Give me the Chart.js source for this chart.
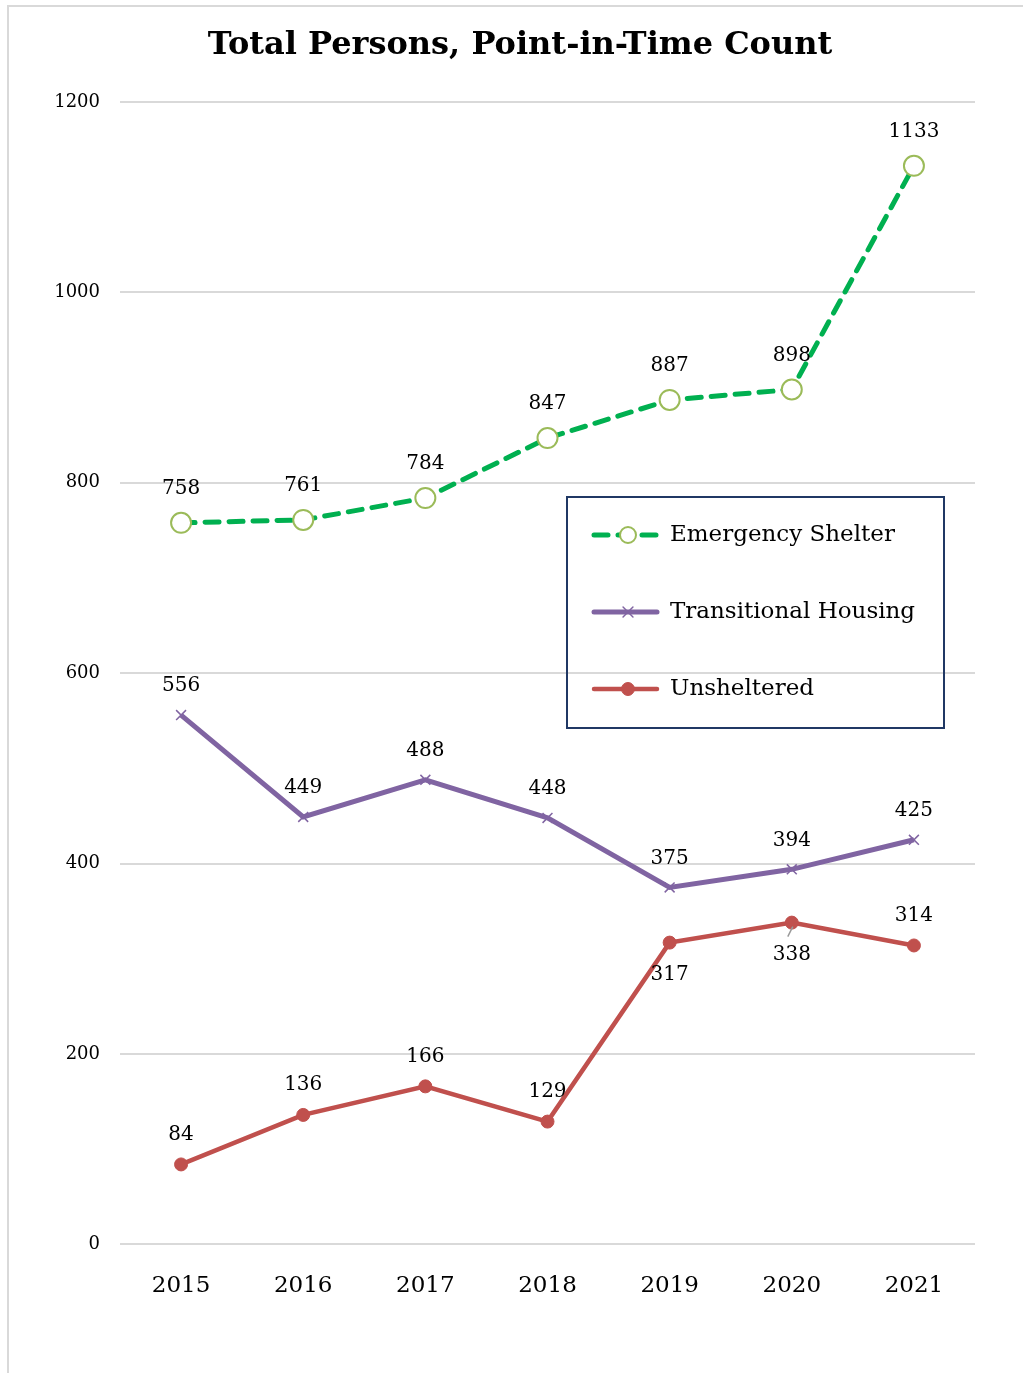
<!DOCTYPE html>
<html>
<head>
<meta charset="utf-8">
<script src="https://cdn.jsdelivr.net/npm/chart.js"></script>
<style>
    body { margin: 0; background: #fff; }
    #frame {
        position: absolute; left: 7px; top: 5px; width: 1040px; height: 1400px;
        border-left: 2px solid #d9d9d9; border-top: 2px solid #d9d9d9;
    }
    #wrap { position: absolute; left: 0; top: 0; width: 1023px; height: 1373px; }
</style>
</head>
<body>
<div id="frame"></div>
<div id="wrap"><canvas id="pitChart"></canvas></div>
<script>
const years = ['2015', '2016', '2017', '2018', '2019', '2020', '2021'];
const emergencyShelter = [758, 761, 784, 847, 887, 898, 1133];
const transitionalHousing = [556, 449, 488, 448, 375, 394, 425];
const unsheltered = [84, 136, 166, 129, 317, 338, 314];
const yTicks = [0, 200, 400, 600, 800, 1000, 1200];

const FONT = "'DejaVu Serif', Georgia, serif";

// title centred on the page rather than on the layout box
const pageTitle = {
    id: 'pageTitle',
    afterDraw(chart, args, opts) {
        const ctx = chart.ctx;
        ctx.save();
        ctx.font = 'bold 32px ' + FONT;
        ctx.fillStyle = '#000';
        ctx.textAlign = 'center';
        ctx.textBaseline = 'middle';
        ctx.fillText(opts.text, opts.x, opts.y);
        ctx.restore();
    }
};

// value labels above each point (or below where listed)
const valueLabels = {
    id: 'valueLabels',
    afterDatasetsDraw(chart) {
        const ctx = chart.ctx;
        ctx.save();
        ctx.font = '20px ' + FONT;
        ctx.fillStyle = '#000';
        ctx.textAlign = 'center';
        ctx.textBaseline = 'middle';
        chart.data.datasets.forEach((ds, i) => {
            const meta = chart.getDatasetMeta(i);
            meta.data.forEach((pt, j) => {
                const below = (ds.labelBelow || []).includes(j);
                const dy = below ? ds.labelGap + 2 : -ds.labelGap;
                ctx.fillText(String(ds.data[j]), pt.x, pt.y + dy);
                if ((ds.leader || []).includes(j)) {
                    ctx.strokeStyle = '#999';
                    ctx.lineWidth = 1.5;
                    ctx.beginPath();
                    ctx.moveTo(pt.x + 1, pt.y + 4);
                    ctx.lineTo(pt.x - 4, pt.y + 14);
                    ctx.stroke();
                }
            });
        });
        ctx.restore();
    }
};

// boxed legend inside the plot
const boxLegend = {
    id: 'boxLegend',
    afterDraw(chart, args, opts) {
        const ctx = chart.ctx;
        ctx.save();
        ctx.strokeStyle = '#203864';
        ctx.lineWidth = 2;
        ctx.strokeRect(opts.x, opts.y, opts.w, opts.h);
        ctx.font = '23px ' + FONT;
        ctx.textBaseline = 'middle';
        ctx.textAlign = 'left';
        chart.data.datasets.forEach((ds, i) => {
            const y = opts.y + 38 + i * 77;
            const x0 = opts.x + 27, x1 = opts.x + 90, xm = opts.x + 61;
            ctx.strokeStyle = ds.borderColor;
            ctx.lineWidth = ds.borderWidth;
            ctx.lineCap = 'round';
            ctx.setLineDash(ds.borderDash || []);
            ctx.beginPath();
            ctx.moveTo(x0, y);
            ctx.lineTo(x1, y);
            ctx.stroke();
            ctx.setLineDash([]);
            ctx.fillStyle = ds.pointBackgroundColor;
            ctx.strokeStyle = ds.pointBorderColor;
            ctx.lineWidth = ds.pointBorderWidth;
            Chart.helpers.drawPoint(ctx, {
                pointStyle: ds.pointStyle,
                radius: ds.legendRadius,
                borderWidth: ds.pointBorderWidth,
                rotation: 0
            }, xm, y);
            ctx.fillStyle = '#000';
            ctx.fillText(ds.label, opts.x + 103, y);
        });
        ctx.restore();
    }
};

const ctx = document.getElementById('pitChart').getContext('2d');
new Chart(ctx, {
    type: 'line',
    data: {
        labels: years,
        datasets: [
            {
                label: 'Emergency Shelter',
                data: emergencyShelter,
                borderColor: '#00B050',
                borderWidth: 5,
                borderDash: [14, 10],
                borderCapStyle: 'round',
                pointStyle: 'circle',
                pointRadius: 10,
                pointBorderWidth: 2,
                pointBorderColor: '#9BBB59',
                pointBackgroundColor: '#fff',
                legendRadius: 8,
                labelGap: 34
            },
            {
                label: 'Transitional Housing',
                data: transitionalHousing,
                borderColor: '#8064A2',
                borderWidth: 5,
                pointStyle: 'crossRot',
                pointRadius: 7,
                pointBorderWidth: 1.5,
                pointBorderColor: '#8064A2',
                pointBackgroundColor: '#8064A2',
                legendRadius: 7,
                labelGap: 29
            },
            {
                label: 'Unsheltered',
                data: unsheltered,
                borderColor: '#C0504D',
                borderWidth: 4.5,
                pointStyle: 'circle',
                pointRadius: 6.5,
                pointBorderWidth: 1,
                pointBorderColor: '#C0504D',
                pointBackgroundColor: '#C0504D',
                legendRadius: 6.5,
                labelGap: 30,
                labelBelow: [4, 5],
                leader: [5]
            }
        ]
    },
    options: {
        responsive: true,
        maintainAspectRatio: false,
        animation: false,
        layout: { padding: { left: 0, right: 48, top: 102, bottom: 53 } },
        plugins: {
            legend: { display: false },
            tooltip: { enabled: false },
            title: { display: false },
            pageTitle: { text: 'Total Persons, Point-in-Time Count', x: 520, y: 46 },
            boxLegend: { x: 567, y: 497, w: 377, h: 231 }
        },
        scales: {
            x: {
                offset: true,
                grid: { display: false },
                border: { display: false },
                ticks: { color: '#000', padding: 20, font: { family: FONT, size: 23 } }
            },
            y: {
                min: 0,
                max: 1200,
                afterFit: s => { s.width = 120; },
                afterBuildTicks: s => { s.ticks = yTicks.map(v => ({ value: v })); },
                grid: { color: '#d9d9d9', lineWidth: 2, drawTicks: false },
                border: { display: false },
                ticks: {
                    color: '#000', padding: 20, font: { family: FONT, size: 18 },
                    callback: v => String(v)
                }
            }
        }
    },
    plugins: [valueLabels, boxLegend, pageTitle]
});
</script>
</body>
</html>
